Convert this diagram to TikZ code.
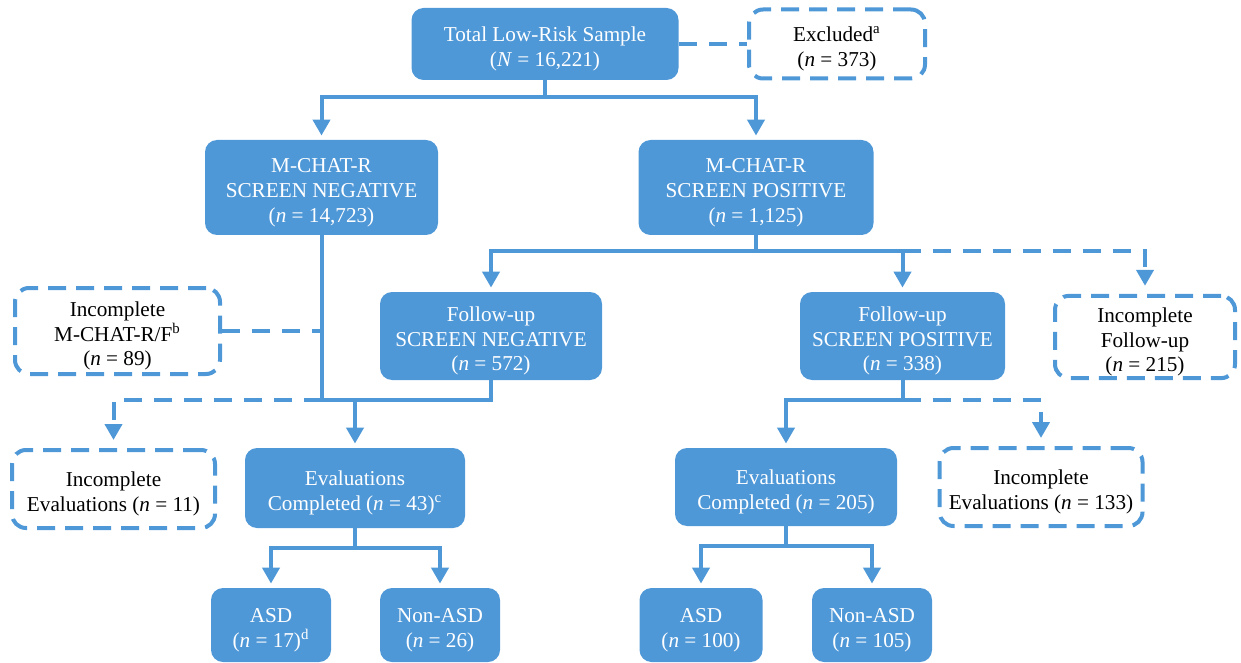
\documentclass[tikz,border=0pt]{standalone}
\usepackage{fontspec}
\setmainfont{Liberation Serif}
\usetikzlibrary{arrows.meta}
\definecolor{flowblue}{RGB}{79,152,216}
\tikzset{
    %Define standard arrow tip
    >={Triangle[width=8.5pt,length=8pt]},
    %Define style for filled boxes
    punkt/.style={
           rectangle,
           rounded corners=6pt,
           fill=flowblue,
           text=white,
           inner ysep=1pt,
           align=center,
           font=\fontsize{10.6}{12.3}\selectfont},
    %Define style for dashed boxes
    dpunkt/.style={
           rectangle,
           rounded corners=7pt,
           draw=flowblue,
           line width=2pt,
           dash pattern=on 9pt off 5pt,
           text=black,
           inner ysep=1pt,
           align=center,
           font=\fontsize{10.6}{12.3}\selectfont},
    % text sits a little low in the boxes
    twolines/.style={text height=24.6pt},
    threelines/.style={text height=36.9pt},
    % Define line and arrow styles
    lin/.style={draw=flowblue, line width=2pt},
    dlin/.style={lin, dash pattern=on 9pt off 6pt},
    pil/.style={lin, ->, shorten >=2pt},
    dpil/.style={dlin, ->, shorten >=4pt}
}

\begin{document}
\begin{tikzpicture}[x=0.5pt, y=-0.5pt]
\useasboundingbox (0,0) rectangle (1241,663);

% Screening
\node[punkt, twolines, minimum width=133.5pt, minimum height=36pt] (total) at (545,44) {Total Low-Risk Sample\\(\textit{N} = 16,221)};
\node[dpunkt, twolines, minimum width=88pt, minimum height=34.5pt] (excl) at (837,44) {Excluded\textsuperscript{a}\\(\textit{n} = 373)};
\node[punkt, threelines, minimum width=116.5pt, minimum height=47.5pt] (neg) at (321.5,187.5) {M-CHAT-R\\SCREEN NEGATIVE\\(\textit{n} = 14,723)};
\node[punkt, threelines, minimum width=117.5pt, minimum height=47.5pt] (pos) at (756,187.5) {M-CHAT-R\\SCREEN POSITIVE\\(\textit{n} = 1,125)};

% Follow-up
\node[dpunkt, threelines, minimum width=102.5pt, minimum height=43pt] (incmc) at (117.5,331) {Incomplete\\M-CHAT-R/F\textsuperscript{b}\\(\textit{n} = 89)};
\node[punkt, threelines, minimum width=111pt, minimum height=44pt] (funeg) at (491,336) {Follow-up\\SCREEN NEGATIVE\\(\textit{n} = 572)};
\node[punkt, threelines, minimum width=102.5pt, minimum height=44pt] (fupos) at (902.5,336) {Follow-up\\SCREEN POSITIVE\\(\textit{n} = 338)};
\node[dpunkt, threelines, minimum width=90pt, minimum height=41pt] (incfu) at (1145,337) {Incomplete\\Follow-up\\(\textit{n} = 215)};

% Evaluations
\node[dpunkt, twolines, minimum width=101.5pt, minimum height=39pt] (inceval1) at (113.5,489) {Incomplete\\Evaluations (\textit{n} = 11)};
\node[punkt, twolines, minimum width=110pt, minimum height=40pt] (eval1) at (355,488) {Evaluations\\Completed (\textit{n} = 43)\textsuperscript{c}};
\node[punkt, twolines, minimum width=111pt, minimum height=39pt] (eval2) at (786,487) {Evaluations\\Completed (\textit{n} = 205)};
\node[dpunkt, twolines, minimum width=101.5pt, minimum height=39pt] (inceval2) at (1041,487) {Incomplete\\Evaluations (\textit{n} = 133)};

% Outcomes
\node[punkt, twolines, minimum width=60pt, minimum height=37pt] (asd1) at (271,625) {ASD\\(\textit{n} = 17)\textsuperscript{d}};
\node[punkt, twolines, minimum width=60pt, minimum height=37pt] (non1) at (440,625) {Non-ASD\\(\textit{n} = 26)};
\node[punkt, twolines, minimum width=61.5pt, minimum height=37pt] (asd2) at (701,625) {ASD\\(\textit{n} = 100)};
\node[punkt, twolines, minimum width=60pt, minimum height=37pt] (non2) at (872,625) {Non-ASD\\(\textit{n} = 105)};

% junctions
\coordinate (j1) at (545,97);
\coordinate (j2) at (756,251);
\coordinate (j2b) at (902.5,251);
\coordinate (j3) at (321.5,400);
\coordinate (j4) at (355,548);
\coordinate (j5) at (902.5,400);
\coordinate (j6) at (786,546);

% first level
\draw[dlin] (total.east) -- (excl.west);
\draw[lin] (total.south) -- (j1);
\draw[pil] (j1) -| (neg.north);
\draw[pil] (j1) -| (pos.north);
% second level
\draw[lin] (pos.south) -- (j2);
\draw[pil] (j2) -| (funeg.north);
\draw[pil] (j2) -| (fupos.north);
\draw[dpil] (j2b) -| (incfu.north);
% left branch
\draw[lin] (neg.south) -- (j3);
\draw[dlin] (incmc.east) -- (incmc.east -| j3);
\draw[lin] (funeg.south) |- (j3);
\draw[pil] (eval1.north |- j3) -- (eval1.north);
\draw[dpil] (j3) -| (inceval1.north);
\draw[lin] (eval1.south) -- (j4);
\draw[pil] (j4) -| (asd1.north);
\draw[pil] (j4) -| (non1.north);
% right branch
\draw[lin] (fupos.south) -- (j5);
\draw[pil] (j5) -| (eval2.north);
\draw[dpil] (j5) -| (inceval2.north);
\draw[lin] (eval2.south) -- (j6);
\draw[pil] (j6) -| (asd2.north);
\draw[pil] (j6) -| (non2.north);

\end{tikzpicture}
\end{document}
